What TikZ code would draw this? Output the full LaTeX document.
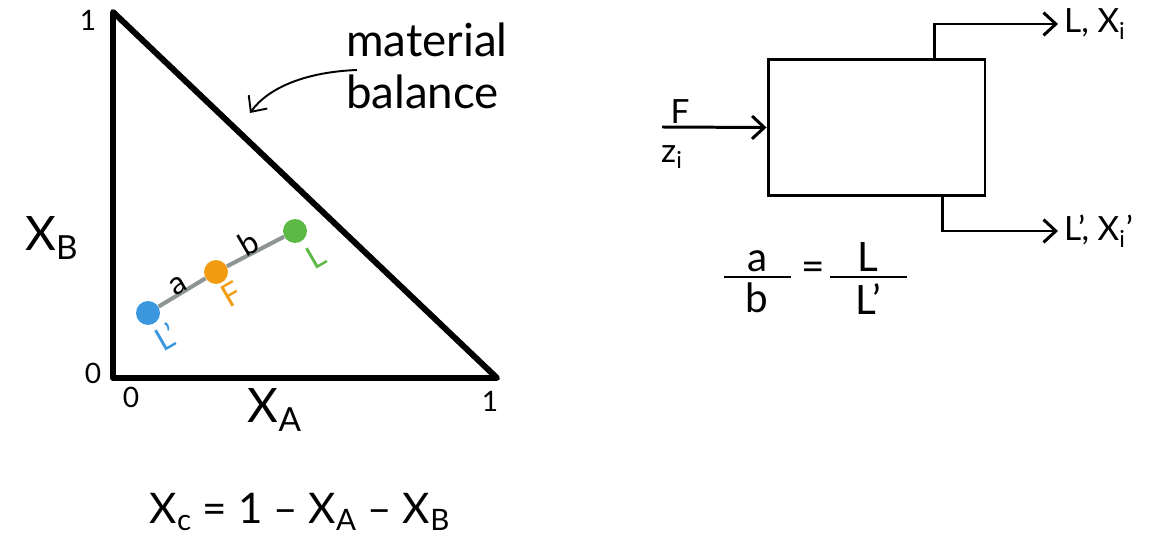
\documentclass[tikz,border=0pt]{standalone}
\usepackage{fontspec}
\setmainfont{Lato}
\usetikzlibrary{arrows.meta,positioning}

\definecolor{ptblue}{HTML}{3B97DE}
\definecolor{ptorange}{HTML}{F39C12}
\definecolor{ptgreen}{HTML}{5CB946}
\definecolor{tieline}{HTML}{8C9494}

\begin{document}
\begin{tikzpicture}[x=0.02cm,y=-0.02cm,>={Straight Barb[length=7pt,width=13pt]},
 dot/.style={circle,inner sep=0pt,minimum size=0.48cm},
 tick/.style={font=\fontsize{16}{18}\selectfont},
 axis/.style={font=\fontsize{27}{30}\selectfont},
 ptlabel/.style={font=\fontsize{18}{20}\selectfont,rotate=30},
 flow/.style={line width=1.7pt},
 word/.style={font=\fontsize{19}{22}\selectfont},
 frac/.style={font=\fontsize{23}{26}\selectfont,inner sep=1pt}]
\useasboundingbox (0,0) rectangle (1152,540);

% ternary diagram (right triangle)
\coordinate (O) at (113,378);
\coordinate (T) at (113,12);
\coordinate (R) at (497,378);
\draw[line width=3.4pt,line join=round] (T) -- (O) -- (R) -- cycle;
\node[tick] (ty1) at (88,20) {1};
\node[tick] (ty0) at (93,373) {0};
\node[tick] (tx0) at (131,397) {0};
\node[tick] (tx1) at (490,401) {1};
\node[axis] (xb) at (52,238) {X\textsubscript{B}};
\node[axis] (xa) at (275,410) {X\textsubscript{A}};

% tie line through the feed point
\node[dot,fill=ptblue] (pLp) at (148,313) {};
\node[dot,fill=ptorange] (pF) at (216,272) {};
\node[dot,fill=ptgreen] (pL) at (295,231) {};
\draw[tieline,line width=2.3pt] (pLp) -- (pF) -- (pL);
\node[ptlabel] (la) at (178,286) {a};
\node[ptlabel] (lb) at (248,243) {b};
\node[ptlabel,text=ptblue] (nLp) at (166,337) {L'};
\node[ptlabel,text=ptorange] (nF) at (232,294) {F};
\node[ptlabel,text=ptgreen] (nL) at (316,257) {L};

% material balance note
\node[font=\fontsize{26}{30}\selectfont,align=left,anchor=west] (mb) at (340,66) {material\\balance};
\coordinate (mbstart) at (357,70);
\coordinate (mbend) at (250,113);
\draw[line width=1.1pt,->] (mbstart) .. controls (305,72) and (268,88) .. (mbend);

\node[font=\fontsize{24}{28}\selectfont] (xc) at (300,512) {X\textsubscript{c} = 1 -- X\textsubscript{A} -- X\textsubscript{B}};

% flash unit
\node[draw,flow,minimum width=4.34cm,minimum height=2.74cm] (unit) at (876.5,127.5) {};
\coordinate (fin) at (662,127);
\draw[flow,->] (fin) -- (unit.west);
\node[word,inner sep=1pt] (nFeed) at (680,112) {F};
\node[word] (nz) at (672,157) {z\textsubscript{i}};

\coordinate (topx) at (934,0);
\coordinate (botx) at (942,0);
\node[word,anchor=west] (Lout) at (1058,24) {L, X\textsubscript{i}};
\node[word,anchor=west] (Lpout) at (1058,231) {L', X\textsubscript{i}'};
\draw[flow,->] (unit.north -| topx) |- (Lout.west);
\draw[flow,->] (unit.south -| botx) |- (Lpout.west);

% lever rule
\node[frac,anchor=south] (fa) at (758,274) {a};
\node[frac,anchor=north] (fb) at (757,281) {b};
\node[frac] (feq) at (813,271) {=};
\node[frac,anchor=south] (fL) at (868,274) {L};
\node[frac,anchor=north] (fLp) at (868,281) {L'};
\coordinate (barA1) at (724,277);
\coordinate (barA2) at (791,277);
\coordinate (barB1) at (830,277);
\coordinate (barB2) at (907,277);
\draw[line width=1.1pt] (barA1) -- (barA2);
\draw[line width=1.1pt] (barB1) -- (barB2);
\end{tikzpicture}
\end{document}
